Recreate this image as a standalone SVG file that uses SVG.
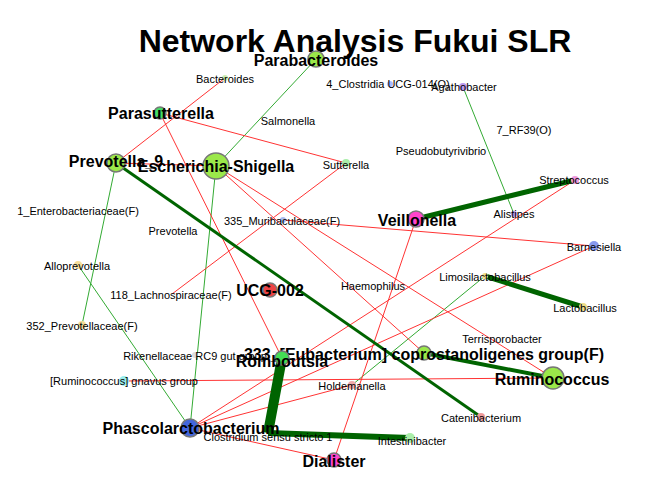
<svg xmlns="http://www.w3.org/2000/svg" width="672" height="480" viewBox="0 0 672 480">
<style>
.r{stroke:#ff3333;stroke-width:1;fill:none}
.g{stroke:#33aa33;stroke-width:1;fill:none}
.d{stroke:#006400;fill:none}
.n{stroke:#777;stroke-width:1.5}
.s{stroke:none}
text{font-family:"Liberation Sans",Arial,sans-serif;text-anchor:middle;fill:#000}
.b{font-size:16px;font-weight:bold}
.t{font-size:11px}
</style>
<rect width="672" height="480" fill="#fff"/>
<text x="355" y="52" style="font-size:32px;font-weight:bold">Network Analysis Fukui SLR</text>
<g id="edges">
<line class="g" x1="316" y1="59" x2="216" y2="166"/>
<line class="g" x1="116" y1="163" x2="82" y2="325"/>
<line class="g" x1="78" y1="265" x2="190" y2="428"/>
<line class="g" x1="216" y1="166" x2="190" y2="428"/>
<line class="g" x1="463" y1="87" x2="514" y2="214"/>
<line class="g" x1="485" y1="276" x2="352" y2="385"/>
<line class="r" x1="225" y1="78" x2="116" y2="163"/>
<line class="r" x1="160" y1="113" x2="346" y2="163"/>
<line class="r" x1="160" y1="113" x2="282" y2="358"/>
<line class="r" x1="116" y1="163" x2="216" y2="166"/>
<line class="r" x1="346" y1="163" x2="172" y2="294"/>
<line class="r" x1="283" y1="220" x2="594" y2="246"/>
<line class="r" x1="416" y1="219" x2="334" y2="460"/>
<line class="r" x1="575" y1="180" x2="190" y2="428"/>
<line class="r" x1="594" y1="246" x2="190" y2="428"/>
<line class="r" x1="190" y1="428" x2="352" y2="385"/>
<line class="r" x1="190" y1="428" x2="334" y2="460"/>
<line class="r" x1="124" y1="381" x2="553" y2="378"/>
<line class="r" x1="216" y1="166" x2="553" y2="378"/>
<line class="r" x1="216" y1="166" x2="424" y2="353"/>
<line class="d" x1="116" y1="163" x2="481" y2="417" stroke-width="3"/>
<line class="d" x1="416" y1="219" x2="575" y2="180" stroke-width="5"/>
<line class="d" x1="485" y1="276" x2="583" y2="307" stroke-width="5"/>
<line class="d" x1="424" y1="353" x2="553" y2="378" stroke-width="4"/>
<line class="d" x1="282" y1="358" x2="268" y2="433" stroke-width="10"/>
<line class="d" x1="268" y1="433" x2="410" y2="438" stroke-width="6"/>
</g>
<g id="n-parabacteroides"><circle class="n" cx="316" cy="59" r="8" fill="#9be84a"/><text class="b" x="316" y="66">Parabacteroides</text></g>
<g id="n-bacteroides"><circle class="s" cx="225" cy="78" r="3" fill="#cdeeb5"/><text class="t" x="225" y="83">Bacteroides</text></g>
<g id="n-clostridia"><circle class="s" cx="390" cy="84" r="3" fill="#aabbff"/><text class="t" x="388" y="88">4_Clostridia UCG-014(O)</text></g>
<g id="n-agathobacter"><circle class="s" cx="463" cy="87" r="4" fill="#bb99ee"/><text class="t" x="464" y="91">Agathobacter</text></g>
<g id="n-parasutterella"><circle class="n" cx="160" cy="113" r="6" fill="#44dd66"/><text class="b" x="161" y="119">Parasutterella</text></g>
<g id="n-salmonella"><text class="t" x="288" y="125">Salmonella</text></g>
<g id="n-rf39"><text class="t" x="524" y="134">7_RF39(O)</text></g>
<g id="n-pseudobutyrivibrio"><circle class="s" cx="440" cy="150" r="2" fill="#eeeeee"/><text class="t" x="441" y="155">Pseudobutyrivibrio</text></g>
<g id="n-sutterella"><circle class="s" cx="346" cy="163" r="4" fill="#aaeeaa"/><text class="t" x="346" y="169">Sutterella</text></g>
<g id="n-prevotella9"><circle class="n" cx="116" cy="163" r="9" fill="#9be84a"/><text class="b" x="116" y="167">Prevotella_9</text></g>
<g id="n-escherichia"><circle class="n" cx="216" cy="166" r="13" fill="#9be84a"/><text class="b" x="216" y="172">Escherichia-Shigella</text></g>
<g id="n-streptococcus"><circle class="s" cx="575" cy="180" r="4" fill="#ee99dd"/><text class="t" x="574" y="184">Streptococcus</text></g>
<g id="n-enterobacteriaceae"><text class="t" x="78" y="215">1_Enterobacteriaceae(F)</text></g>
<g id="n-alistipes"><circle class="s" cx="514" cy="214" r="3" fill="#bb99ee"/><text class="t" x="514" y="218">Alistipes</text></g>
<g id="n-veillonella"><circle class="n" cx="416" cy="219" r="8" fill="#ff44cc"/><text class="b" x="417" y="226">Veillonella</text></g>
<g id="n-muribaculaceae"><circle class="s" cx="283" cy="220" r="3" fill="#aabbee"/><text class="t" x="282" y="225">335_Muribaculaceae(F)</text></g>
<g id="n-prevotella"><text class="t" x="173" y="235">Prevotella</text></g>
<g id="n-barnesiella"><circle class="s" cx="594" cy="246" r="5" fill="#8899ee"/><text class="t" x="594" y="251">Barnesiella</text></g>
<g id="n-alloprevotella"><circle class="s" cx="78" cy="265" r="4" fill="#f5dd99"/><text class="t" x="77" y="270">Alloprevotella</text></g>
<g id="n-limosilactobacillus"><circle class="s" cx="485" cy="276" r="3" fill="#eedd88"/><text class="t" x="485" y="281">Limosilactobacillus</text></g>
<g id="n-haemophilus"><text class="t" x="373" y="290">Haemophilus</text></g>
<g id="n-ucg002"><circle class="n" cx="270" cy="290" r="7" fill="#ee4444"/><text class="b" x="270" y="296">UCG-002</text></g>
<g id="n-lachnospiraceae"><text class="t" x="171" y="299">118_Lachnospiraceae(F)</text></g>
<g id="n-lactobacillus"><circle class="s" cx="583" cy="307" r="4" fill="#eedd88"/><text class="t" x="585" y="312">Lactobacillus</text></g>
<g id="n-prevotellaceae"><circle class="s" cx="82" cy="325" r="4" fill="#f5dd99"/><text class="t" x="82" y="330">352_Prevotellaceae(F)</text></g>
<g id="n-terrisporobacter"><text class="t" x="502" y="343">Terrisporobacter</text></g>
<g id="n-rikenellaceae"><circle class="s" cx="195" cy="355" r="3" fill="#dddddd"/><text class="t" x="195" y="360">Rikenellaceae RC9 gut group</text></g>
<g id="n-eubacterium"><circle class="n" cx="424" cy="353" r="7" fill="#9be84a"/><text class="b" x="424" y="360">333_[Eubacterium] coprostanoligenes group(F)</text></g>
<g id="n-romboutsia"><circle class="n" cx="282" cy="358" r="7" fill="#44dd55"/><text class="b" x="282" y="367">Romboutsia</text></g>
<g id="n-gnavus"><circle class="s" cx="124" cy="381" r="5" fill="#99eeee"/><text class="t" x="124" y="385">[Ruminococcus] gnavus group</text></g>
<g id="n-ruminococcus"><circle class="n" cx="553" cy="378" r="11" fill="#9be84a"/><text class="b" x="552" y="385">Ruminococcus</text></g>
<g id="n-holdemanella"><circle class="s" cx="352" cy="385" r="4" fill="#f0aaaa"/><text class="t" x="352" y="390">Holdemanella</text></g>
<g id="n-catenibacterium"><circle class="s" cx="481" cy="417" r="4" fill="#ee9999"/><text class="t" x="481" y="422">Catenibacterium</text></g>
<g id="n-phascolarctobacterium"><circle class="n" cx="190" cy="428" r="9" fill="#4466dd"/><text class="b" x="191" y="434">Phascolarctobacterium</text></g>
<g id="n-clostridium"><text class="t" x="268" y="441">Clostridium sensu stricto 1</text></g>
<g id="n-intestinibacter"><circle class="s" cx="410" cy="438" r="5" fill="#aaeeaa"/><text class="t" x="412" y="445">Intestinibacter</text></g>
<g id="n-dialister"><circle class="n" cx="334" cy="460" r="7" fill="#ff44cc"/><text class="b" x="334" y="467">Dialister</text></g>
</svg>
